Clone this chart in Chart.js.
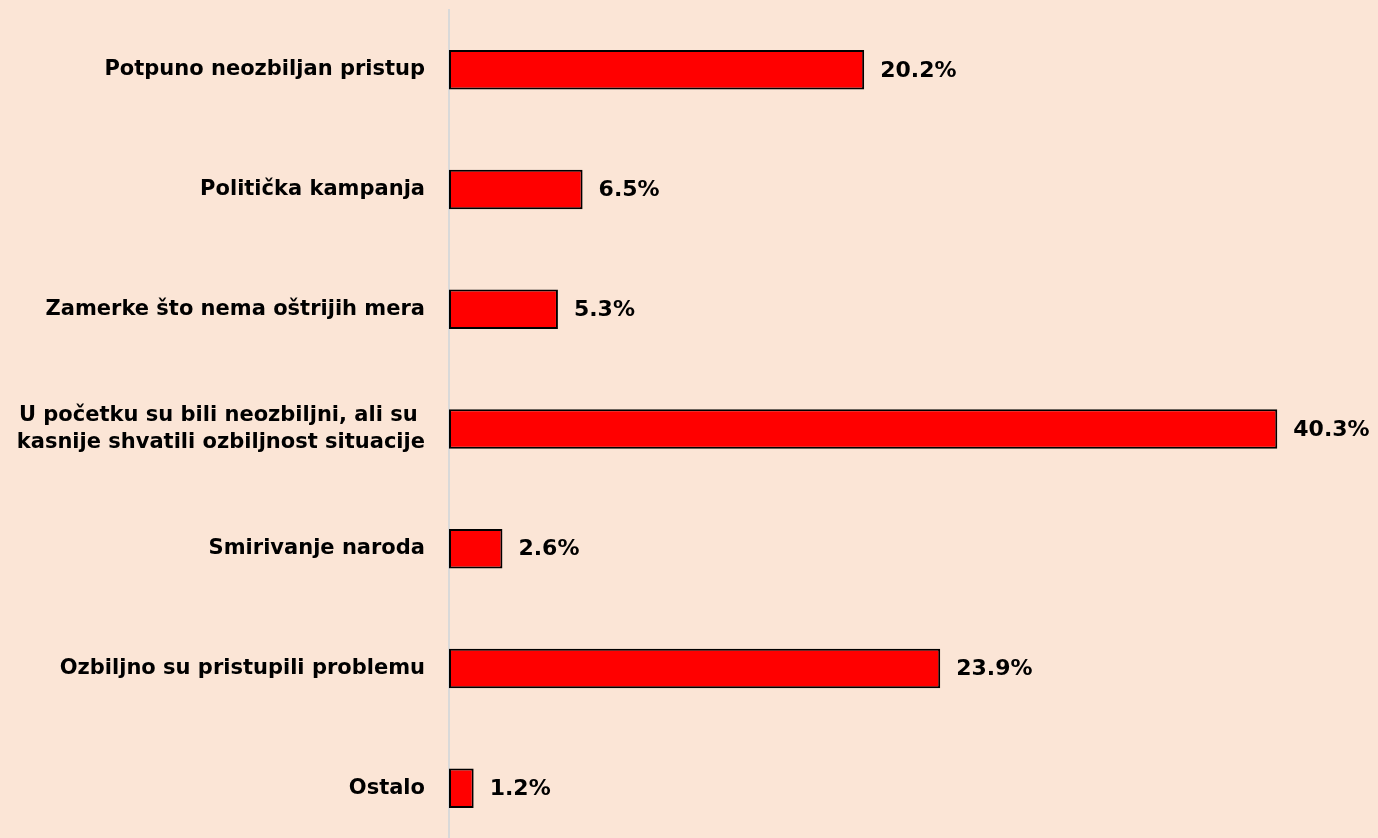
<!DOCTYPE html>
<html>
<head>
<meta charset="utf-8">
<script src="https://cdn.jsdelivr.net/npm/chart.js@4.4.1/dist/chart.umd.min.js"></script>
<style>
    html, body { margin: 0; padding: 0; background: #FBE5D6; overflow: hidden; }
    #wrap { width: 1378px; height: 848px; position: relative; }
</style>
</head>
<body>
<div id="wrap"><canvas id="barChart"></canvas></div>
<script>
// categories, top to bottom
const categories = [
    "Potpuno neozbiljan pristup",
    "Politička kampanja",
    "Zamerke što nema oštrijih mera",
    ["U početku su bili neozbiljni, ali su ", "kasnije shvatili ozbiljnost situacije"],
    "Smirivanje naroda",
    "Ozbiljno su pristupili problemu",
    "Ostalo"
];
const values = [20.2, 6.5, 5.3, 40.3, 2.6, 23.9, 1.2];

const fontFamily = "'DejaVu Sans', Verdana, sans-serif";

/*Draws the percentage next to each bar*/
const valueLabels = {
    id: "valueLabels",
    afterDatasetsDraw(chart) {
        const ctx = chart.ctx;
        const meta = chart.getDatasetMeta(0);
        ctx.save();
        ctx.font = `bold 22px ${fontFamily}`;
        ctx.fillStyle = "#000";
        ctx.textAlign = "left";
        ctx.textBaseline = "middle";
        meta.data.forEach((bar, i) => {
            ctx.fillText(values[i].toFixed(1) + "%", bar.x + 16, bar.y + 1);
        });
        ctx.restore();
    },
};

var barChart = new Chart(document.getElementById("barChart"), {
    type: "bar",
    data: {
        labels: categories,
        datasets: [
            {
                data: values,
                backgroundColor: "#FF0000",
                borderColor: "#000000",
                borderWidth: 2,
                borderSkipped: false,
                categoryPercentage: 1,
                barPercentage: 0.33,
            },
        ],
    },
    options: {
        indexAxis: "y",
        responsive: true,
        maintainAspectRatio: false,
        animation: false,
        layout: {
            padding: { top: 10, right: 0, bottom: 0, left: 0 },
        },
        plugins: {
            legend: { display: false },
            tooltip: { enabled: false },
        },
        scales: {
            x: {
                min: 0,
                max: 45.2,
                display: false,
            },
            y: {
                afterFit(scale) {
                    scale.width = 449;
                    scale.paddingTop = 0;
                    scale.paddingBottom = 0;
                },
                grid: {
                    display: false,
                    drawTicks: false,
                },
                border: {
                    display: true,
                    color: "#D9D9D9",
                    width: 2,
                },
                ticks: {
                    color: "#000",
                    padding: 24,
                    font: {
                        family: fontFamily,
                        weight: "bold",
                        size: 21,
                        lineHeight: 1.25,
                    },
                },
            },
        },
    },
    plugins: [valueLabels],
});
</script>
</body>
</html>
